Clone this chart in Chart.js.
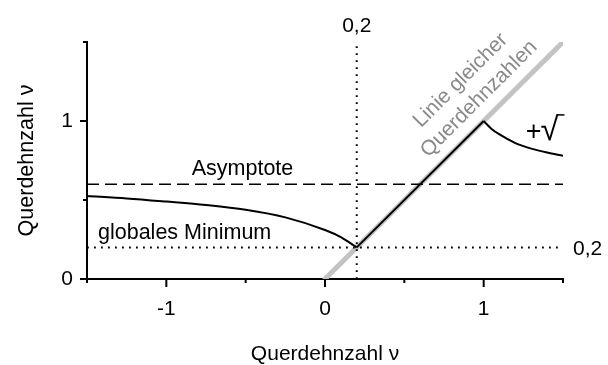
<!DOCTYPE html>
<html>
<head>
<meta charset="utf-8">
<script src="https://cdn.jsdelivr.net/npm/chart.js@4"></script>
<style>
  html, body { margin: 0; padding: 0; background: #fff; }
  #wrap { width: 608px; height: 365px; position: relative; }
</style>
</head>
<body>
<div id="wrap"><canvas id="chart"></canvas></div>
<script>
// Poisson's ratio curves
const leftCurveX  = [-1.5, -1.25, -1, -0.75, -0.5, -0.25, 0, 0.1, 0.2];
const leftCurveY  = [0.525, 0.51, 0.49, 0.468, 0.438, 0.39, 0.31, 0.265, 0.2];
const equalLineX  = [0.2, 1];
const equalLineY  = [0.2, 1];
const rightCurveX = [1, 1.05, 1.1, 1.2, 1.3, 1.4, 1.5];
const rightCurveY = [1, 0.95, 0.915, 0.86, 0.825, 0.8, 0.78];
const diagonalX   = [0, 1.5];
const diagonalY   = [0, 1.5];
const asymptoteNu = 0.6;
const minimumNu   = 0.2;
const dottedTop   = 1.48;

// axis ticks
const xMajorTicks = [-1, 0, 1];
const xMinorTicks = [-1.5, -0.5, 0.5, 1.5];
const yMajorTicks = [0, 1];
const yMinorTicks = [0.5, 1.5];
const xRange = [-1.5, 1.5];
const yRange = [0, 1.5];

const FONT = '"Liberation Sans", Arial, sans-serif';
const pts = (xs, ys) => xs.map((x, i) => ({ x, y: ys[i] }));

// higher order = drawn further below
const datasets = [
  { data: pts(diagonalX, diagonalY), borderColor: '#c3c3c3', borderWidth: 5, borderCapStyle: 'round', order: 10 },
  { data: pts(xRange, [asymptoteNu, asymptoteNu]), borderColor: '#000', borderWidth: 1.5, borderDash: [12, 6], order: 5 },
  { data: pts(xRange, [minimumNu, minimumNu]), borderColor: '#000', borderWidth: 2, borderDash: [1.8, 5.2], order: 5 },
  { data: pts([minimumNu, minimumNu], [0, dottedTop]), borderColor: '#000', borderWidth: 2, borderDash: [1.8, 5.2], order: 5 },
  { data: pts(leftCurveX, leftCurveY), borderColor: '#000', borderWidth: 2, cubicInterpolationMode: 'monotone', order: 1 },
  { data: pts(equalLineX, equalLineY), borderColor: '#000', borderWidth: 2, order: 1 },
  { data: pts(rightCurveX, rightCurveY), borderColor: '#000', borderWidth: 2, cubicInterpolationMode: 'monotone', order: 1 }
].map(d => Object.assign({ showLine: true, pointRadius: 0, fill: false, tension: 0 }, d));

// tick marks of two lengths and the free-standing labels
const decorations = {
  id: 'decorations',
  afterDraw(chart) {
    const { ctx, scales: { x, y } } = chart;
    ctx.save();
    ctx.strokeStyle = '#000';
    ctx.lineWidth = 2;
    ctx.beginPath();
    xMajorTicks.forEach(v => { const p = x.getPixelForValue(v); ctx.moveTo(p, y.bottom); ctx.lineTo(p, y.bottom + 8); });
    xMinorTicks.forEach(v => { const p = x.getPixelForValue(v); ctx.moveTo(p, y.bottom); ctx.lineTo(p, y.bottom + 4); });
    yMajorTicks.forEach(v => { const p = y.getPixelForValue(v); ctx.moveTo(x.left, p); ctx.lineTo(x.left - 7, p); });
    yMinorTicks.forEach(v => { const p = y.getPixelForValue(v); ctx.moveTo(x.left, p); ctx.lineTo(x.left - 4, p); });
    ctx.stroke();

    ctx.fillStyle = '#000';
    ctx.font = '21px ' + FONT;
    ctx.textBaseline = 'middle';
    ctx.textAlign = 'center';
    ctx.fillText('0,2', x.getPixelForValue(minimumNu), 26);
    ctx.textAlign = 'left';
    ctx.fillText('0,2', x.right + 10, y.getPixelForValue(minimumNu) + 2);

    ctx.font = '21.5px ' + FONT;
    ctx.textAlign = 'center';
    ctx.fillText('Asymptote', x.getPixelForValue(-0.52), y.getPixelForValue(asymptoteNu) - 15);
    ctx.textAlign = 'left';
    ctx.fillText('globales Minimum', x.left + 11, y.getPixelForValue(minimumNu) - 14);

    // plus sign and radical with its bar
    const px = x.getPixelForValue(1.265), py = y.getPixelForValue(0.93);
    ctx.font = '27px ' + FONT;
    ctx.fillText('+', px, py);
    const pw = ctx.measureText('+').width;
    ctx.font = '33px ' + FONT;
    const rx = px + pw - 1, ry = py - 1;
    ctx.fillText('\u221A', rx, ry);
    const m = ctx.measureText('\u221A');
    const topY = ry - m.actualBoundingBoxAscent + 0.75;
    const rightX = rx + m.actualBoundingBoxRight;
    ctx.beginPath();
    ctx.lineWidth = 1.5;
    ctx.moveTo(rightX - 1.5, topY);
    ctx.lineTo(rightX + 5, topY);
    ctx.stroke();

    // label along the line of equal ratios
    const cx = x.getPixelForValue(1.055), cy = y.getPixelForValue(1.055);
    ctx.fillStyle = '#8a8a8a';
    ctx.font = '21px ' + FONT;
    ctx.translate(cx, cy);
    ctx.rotate(-Math.PI / 4);
    ctx.textAlign = 'center';
    ctx.fillText('Querdehnzahlen', 0, -19);
    ctx.fillText('Linie gleicher', 0, -45);
    ctx.restore();
  }
};

new Chart(document.getElementById('chart'), {
  type: 'scatter',
  data: { datasets },
  plugins: [decorations],
  options: {
    responsive: true,
    maintainAspectRatio: false,
    animation: false,
    layout: { padding: { left: 0, right: 45, top: 42, bottom: 0 } },
    plugins: { legend: { display: false }, tooltip: { enabled: false } },
    scales: {
      x: {
        type: 'linear', min: xRange[0], max: xRange[1],
        grid: { display: true, drawOnChartArea: false, drawTicks: true, tickLength: 8, color: 'rgba(0,0,0,0)' },
        border: { display: true, color: '#000', width: 2 },
        ticks: {
          stepSize: 0.5, padding: 10, color: '#000', font: { family: FONT, size: 21 },
          maxRotation: 0, autoSkip: false,
          callback: v => (xMajorTicks.includes(v) ? String(v) : '')
        },
        title: { display: true, text: 'Querdehnzahl \u03BD', color: '#000', font: { family: FONT, size: 21, lineHeight: 1 }, padding: { top: 0, bottom: 0 } },
        afterFit: s => { s.height = 86; }
      },
      y: {
        type: 'linear', min: yRange[0], max: yRange[1],
        grid: { display: true, drawOnChartArea: false, drawTicks: true, tickLength: 8, color: 'rgba(0,0,0,0)' },
        border: { display: true, color: '#000', width: 2 },
        ticks: {
          stepSize: 0.5, padding: 6, color: '#000', font: { family: FONT, size: 21 },
          autoSkip: false,
          callback: v => (yMajorTicks.includes(v) ? String(v) : '')
        },
        title: { display: true, text: 'Querdehnzahl \u03BD', color: '#000', font: { family: FONT, size: 21.5, lineHeight: 1 }, padding: { top: 16, bottom: 0 } },
        afterFit: s => { s.width = 87; }
      }
    }
  }
});
</script>
</body>
</html>
